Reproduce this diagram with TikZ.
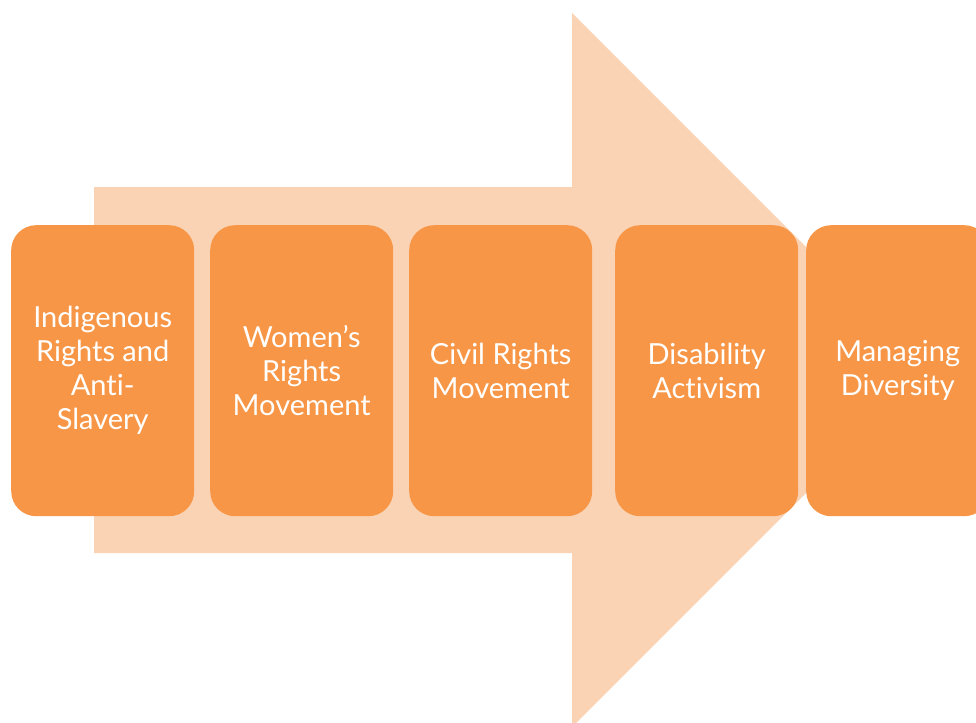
\documentclass[tikz,border=0pt]{standalone}
\usepackage{fontspec}
\setmainfont[RawFeature={-liga;-dlig}]{Lato}
\definecolor{boxc}{HTML}{F79646}
\definecolor{arrc}{HTML}{FAD3B4}
\begin{document}
\begin{tikzpicture}[x=1pt,y=-1pt,
  stagebox/.style={fill=boxc, rounded corners=25pt, minimum width=183pt, minimum height=291pt, inner sep=0pt, anchor=north west},
  lbl/.style={text=white, align=center, font=\fontsize{29}{34}\selectfont}]
\useasboundingbox (0,0) rectangle (976,722);
\fill[arrc] (94,187) -- (572,187) -- (572,13) -- (929,370) -- (572,727) -- (572,553) -- (94,553) -- cycle;
\node[stagebox] (b1) at (11,225) {};
\node[stagebox] (b2) at (210,225) {};
\node[stagebox] (b3) at (409,225) {};
\node[stagebox] (b4) at (615,225) {};
\node[stagebox] (b5) at (806,225) {};
\node[lbl] (t1) at (b1.center) {Indigenous\\Rights and\\Anti-\\Slavery};
\node[lbl] (t2) at (b2.center) {Women’s\\Rights\\Movement};
\node[lbl] (t3) at (b3.center) {Civil Rights\\Movement};
\node[lbl] (t4) at (b4.center) {Disability\\Activism};
\node[lbl] (t5) at (b5.center) {Managing\\Diversity};
\end{tikzpicture}
\end{document}
